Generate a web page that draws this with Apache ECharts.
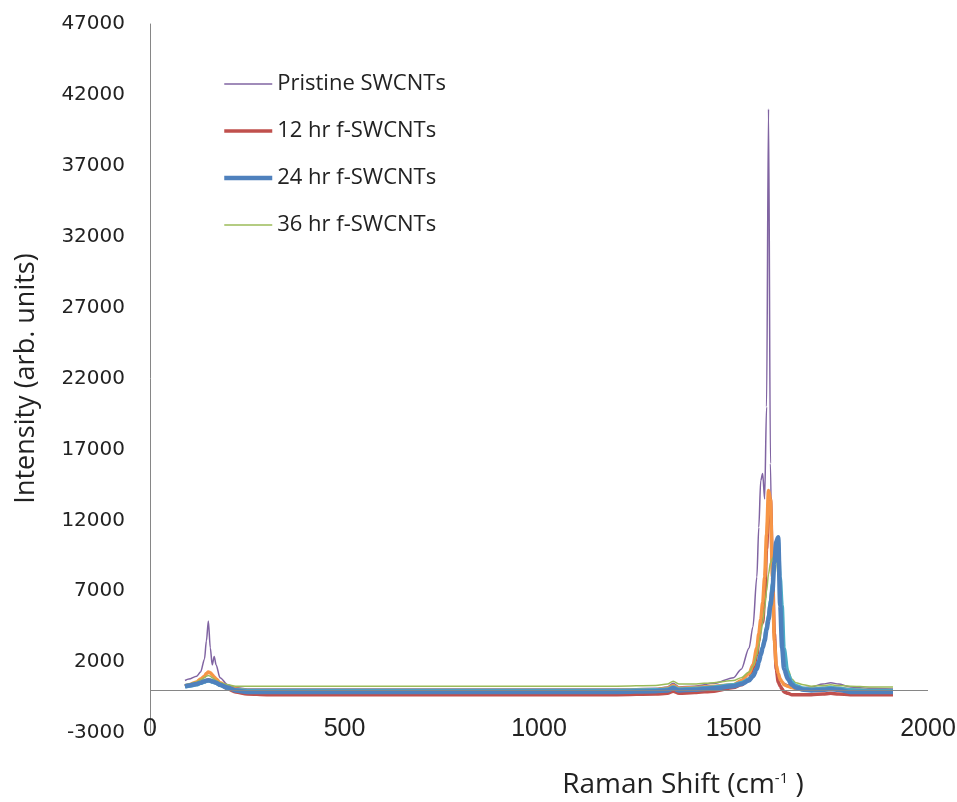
<!DOCTYPE html>
<html>
<head>
<meta charset="utf-8">
<script src="https://cdn.jsdelivr.net/npm/echarts@6/dist/echarts.min.js"></script>
<style>
  html, body { margin: 0; padding: 0; background: #fff; }
  #chart { width: 957px; height: 802px; }
</style>
</head>
<body>
<div id="chart"></div>
<script>
// Raman shift positions (cm-1) shared by every spectrum
var ramanShift = [90, 100, 120, 130, 140, 145, 150, 155, 160, 165, 170, 180, 200, 220, 250, 300, 400, 500, 600, 700,
  800, 900, 1000, 1100, 1200, 1300, 1330, 1345, 1360, 1400, 1450, 1500, 1520, 1540, 1550, 1560, 1565, 1570, 1575, 1580,
  1585, 1590, 1595, 1600, 1605, 1610, 1615, 1620, 1625, 1630, 1640, 1650, 1660, 1680, 1700, 1730, 1750, 1770, 1800, 1850, 1910];

// intensities
var pristine = [700, 800, 1000, 1300, 2200, 3500, 4900, 3000, 1800, 2400, 1800, 900, 400, 200, 100, 100, 100, 100, 100, 100,
  100, 100, 100, 100, 100, 150, 250, 500, 250, 300, 500, 900, 1500, 3000, 4500, 8000, 11500, 14800, 15300, 13500,
  20000, 41000, 16000, 6000, 3000, 1500, 1000, 800, 600, 500, 400, 300, 250, 200, 250, 450, 550, 450, 250, 150, 100];
var hr12 = [300, 350, 450, 550, 650, 700, 750, 700, 650, 600, 550, 400, 100, -100, -250, -300, -300, -300, -300, -300,
  -300, -300, -300, -300, -300, -250, -200, -50, -200, -150, -50, 200, 400, 800, 1400, 2500, 3500, 4600, 4800, 6500,
  10000, 13000, 13500, 9000, 4000, 1500, 600, 300, 100, -100, -200, -300, -300, -300, -300, -250, -200, -250, -300, -300, -300];
var hr24 = [300, 350, 450, 550, 650, 700, 700, 700, 650, 600, 550, 400, 200, 0, -100, -100, -100, -100, -100, -100,
  -100, -100, -100, -100, -100, -50, 0, 150, 0, 50, 150, 300, 450, 700, 1000, 1500, 2000, 2500, 3000, 3500,
  4300, 5000, 6000, 7000, 9000, 10500, 10800, 6000, 3000, 1500, 800, 400, 200, 50, 0, 50, 100, 50, -100, -100, -100];
var hr36 = [400, 450, 600, 750, 900, 1000, 1050, 1000, 900, 800, 700, 550, 400, 300, 300, 300, 300, 300, 300, 300,
  300, 300, 300, 300, 300, 350, 450, 650, 450, 450, 550, 700, 900, 1300, 1700, 2500, 3200, 4000, 4800, 5800,
  7000, 8200, 9000, 9300, 9500, 9400, 8000, 6000, 4500, 3000, 1500, 800, 550, 400, 300, 350, 400, 350, 300, 250, 250];
var hr48 = [300, 400, 600, 800, 1000, 1200, 1300, 1250, 1100, 950, 800, 550, 250, 100, 0, 0, 0, 0, 0, 0,
  0, 0, 0, 0, 0, 50, 150, 350, 150, 200, 300, 400, 700, 1200, 1800, 3000, 4000, 5000, 6200, 8000,
  11000, 14100, 13500, 8000, 3500, 1800, 1200, 800, 600, 400, 300, 200, 150, 100, 100, 150, 200, 150, 50, 0, 0];
var hr60 = [250, 300, 400, 500, 600, 650, 700, 650, 600, 550, 500, 350, 150, 50, 0, 0, 0, 0, 0, 0,
  0, 0, 0, 0, 0, 50, 100, 250, 100, 150, 250, 400, 550, 800, 1100, 1600, 2100, 2600, 3100, 3700,
  4500, 5300, 6300, 7500, 9000, 10000, 10500, 8000, 6000, 3000, 1200, 600, 350, 150, 100, 150, 200, 150, 50, 0, 0];

var xTicks = [0, 500, 1000, 1500, 2000];
var yTicks = [-3000, 2000, 7000, 12000, 17000, 22000, 27000, 32000, 37000, 42000, 47000];

function pairs(vals) {
  return ramanShift.map(function (x, i) { return [x, vals[i]]; });
}

function spectrum(name, vals, color, width) {
  return {
    name: name,
    type: 'line',
    data: pairs(vals),
    symbol: 'none',
    smooth: 0.3,
    smoothMonotone: 'x',
    lineStyle: { color: color, width: width },
    itemStyle: { color: color },
    z: 2
  };
}

var series = [
  spectrum('Pristine SWCNTs', pristine, '#8064A2', 1.5),
  spectrum('12 hr f-SWCNTs', hr12, '#C0504D', 3.5),
  spectrum('48 hr f-SWCNTs', hr48, '#F79646', 3.5),
  spectrum('36 hr f-SWCNTs', hr36, '#9BBB59', 1.5),
  spectrum('60 hr f-SWCNTs', hr60, '#4BACC6', 3.5),
  spectrum('24 hr f-SWCNTs', hr24, '#4F81BD', 4.5)
];
// zero line across the plot
series[0].markLine = {
  silent: true,
  symbol: 'none',
  label: { show: false },
  lineStyle: { color: '#868686', width: 1, type: 'solid' },
  data: [{ yAxis: 0 }]
};

var myChart = echarts.init(document.getElementById('chart'));
var option = {
  backgroundColor: '#fff',
  animation: false,
  legend: {
    data: [
      { name: 'Pristine SWCNTs', lineStyle: { width: 1.5 } },
      { name: '12 hr f-SWCNTs', lineStyle: { width: 3.5 } },
      { name: '24 hr f-SWCNTs', lineStyle: { width: 4.5 } },
      { name: '36 hr f-SWCNTs', lineStyle: { width: 1.5 } }
    ],
    orient: 'vertical',
    left: 222,
    top: 73,
    padding: 0,
    itemWidth: 48,
    itemHeight: 18,
    itemGap: 25,
    itemStyle: { color: 'transparent', borderWidth: 0 },
    textStyle: { fontFamily: 'Open Sans', fontSize: 22, color: '#222' }
  },
  grid: { left: 150, right: 29, top: 24, bottom: 69, outerBoundsMode: 'none' },
  xAxis: {
    type: 'value',
    min: xTicks[0],
    max: xTicks[xTicks.length - 1],
    interval: 500,
    axisLine: { show: false },
    axisTick: { show: false },
    splitLine: { show: false },
    axisLabel: {
      fontFamily: 'Liberation Sans', fontSize: 25, color: '#222',
      verticalAlign: 'middle', margin: -4,
      formatter: function (v) { return String(v); }
    },
    name: '{a|Raman Shift (cm}{b|-1}{a| )}',
    nameLocation: 'middle',
    nameGap: 38,
    nameTextStyle: {
      padding: [0, 0, 0, 288],
      rich: {
        a: { fontFamily: 'Open Sans', fontSize: 28, color: '#222' },
        b: { fontFamily: 'Open Sans', fontSize: 15, color: '#222', verticalAlign: 'top', padding: [0, 0, 12, 0] }
      }
    }
  },
  yAxis: {
    type: 'value',
    min: yTicks[0],
    max: yTicks[yTicks.length - 1],
    interval: 5000,
    axisLine: { show: true, onZero: false, lineStyle: { color: '#868686' } },
    axisTick: { show: false },
    splitLine: { show: false },
    axisLabel: {
      fontFamily: 'DejaVu Sans', fontSize: 20, color: '#222', margin: 25,
      formatter: function (v) { return String(v); }
    },
    name: 'Intensity (arb. units)',
    nameLocation: 'middle',
    nameGap: 110,
    nameTextStyle: { fontFamily: 'Open Sans', fontSize: 27, color: '#222' }
  },
  series: series
};
myChart.setOption(option);
</script>
</body>
</html>
